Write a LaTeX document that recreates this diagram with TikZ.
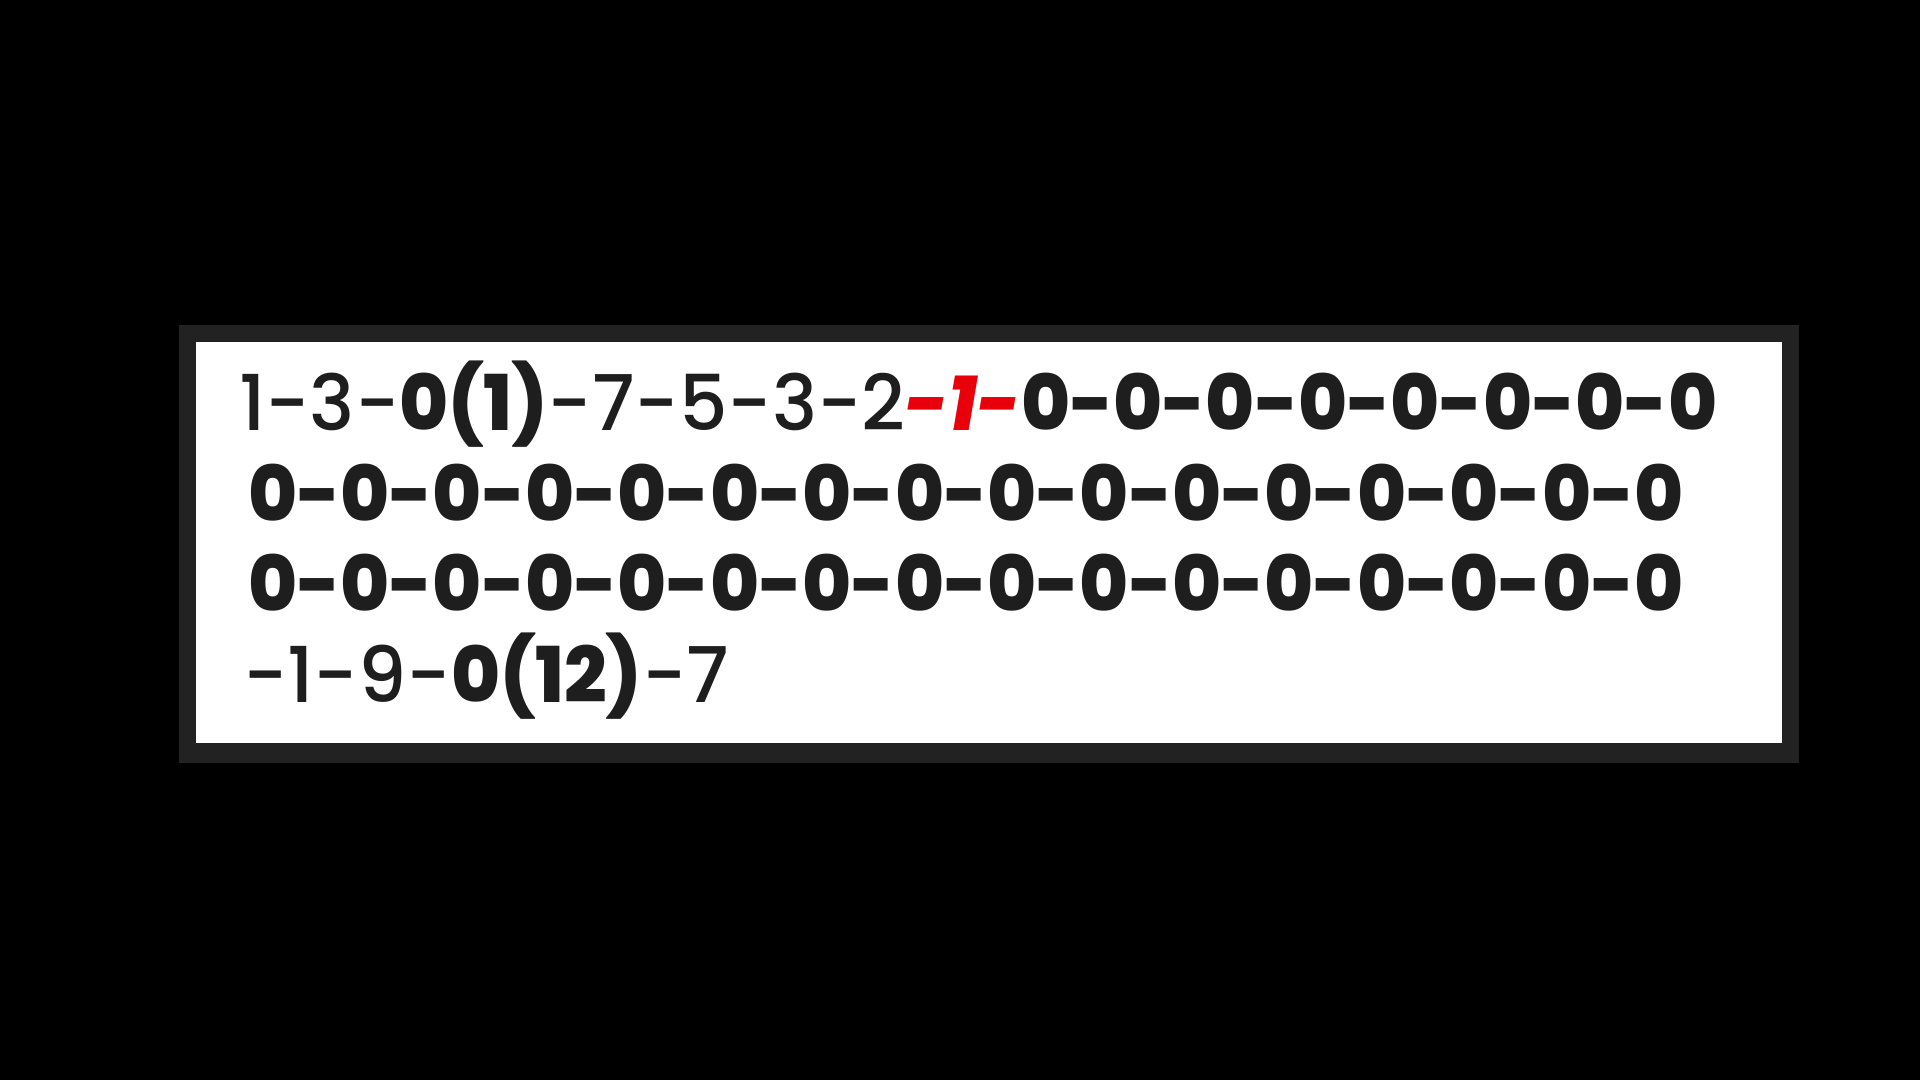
\documentclass[tikz,border=0pt]{standalone}
\usepackage{fontspec}
\setmainfont{Poppins Medium}[FakeStretch=0.986,BoldFont={Poppins ExtraBold},BoldItalicFont={Poppins ExtraBold Italic},
  BoldFeatures={FakeStretch=0.972},BoldItalicFeatures={FakeStretch=0.972}]
\usepackage{xcolor}
\definecolor{ink}{HTML}{1E1E1E}
\definecolor{frame}{HTML}{222222}
\definecolor{hot}{HTML}{E8000B}
\begin{document}
\begin{tikzpicture}[x=1pt,y=-1pt,
  tabline/.style={anchor=base west,inner sep=0pt,outer sep=0pt,text=ink,
    font=\fontsize{77}{90}\selectfont}]
\useasboundingbox (0,0) rectangle (1920,1080);
\fill[black] (0,0) rectangle (1920,1080);
\fill[frame] (179,325) rectangle (1799,763);
\fill[white] (196,342) rectangle (1782,743);
\node[tabline] (l1) at (239,430) {1-3-\textbf{0(1)}-7-5-3-2\textcolor{hot}{\textbf{\textit{-1-}}}\textbf{0-0-0-0-0-0-0-0}};
\node[tabline] (l2) at (248,521) {\textbf{0-0-0-0-0-0-0-0-0-0-0-0-0-0-0-0}};
\node[tabline] (l3) at (248,611) {\textbf{0-0-0-0-0-0-0-0-0-0-0-0-0-0-0-0}};
\node[tabline] (l4) at (243,702) {-1-9-\textbf{0(12)}-7};
\end{tikzpicture}
\end{document}
